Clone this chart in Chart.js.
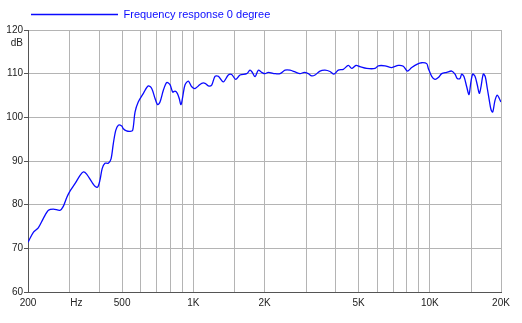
<!DOCTYPE html>
<html>
<head>
<meta charset="utf-8">
<script src="https://cdn.jsdelivr.net/npm/chart.js@4/dist/chart.umd.min.js"></script>
<style>
  html, body { margin: 0; padding: 0; background: #fff; }
  #wrap { width: 522px; height: 323px; }
</style>
</head>
<body>
<div id="wrap"><canvas id="c" width="522" height="323"></canvas></div>
<script>
const seriesLabel = 'Frequency response 0 degree';
const freqs = [200,211,221,232,244,256,273,282,292,301,316,332,343,354,372,384,394,403,412,423,437,449,459,470,482,498,506,522,540,554,567,585,615,645,667,689,707,723,747,772,797,818,837,856,872,887,902,922,953,985,1017,1050,1085,1121,1157,1196,1235,1276,1339,1406,1453,1511,1576,1682,1737,1776,1824,1883,1946,2010,2076,2215,2326,2442,2564,2692,2826,2947,3064,3167,3271,3434,3605,3784,3935,4103,4308,4524,4675,4876,5069,5410,5866,6058,6464,6901,7360,7727,8034,8386,8856,9244,9704,9857,10186,10518,10862,11226,11788,12376,12781,13070,13418,13643,13954,14322,14646,14892,15183,15528,15880,16193,16460,16836,17164,17504,17846,18146,18449,18865,19292,19670,20000];
const levels = [71.4,73.7,74.7,76.8,78.7,79.0,78.7,79.6,81.7,83.1,84.8,86.7,87.5,87.0,85.2,84.2,84.0,85.6,88.3,89.5,89.5,90.5,94.0,97.0,98.2,98.0,97.4,96.9,96.8,97.0,101.2,103.5,105.5,107.2,106.6,104.3,102.9,103.5,106.2,108.0,107.5,105.8,106.0,105.5,104.3,102.9,104.7,107.4,108.3,107.0,106.6,107.2,107.8,107.8,107.2,107.4,109.4,109.4,108.1,109.7,109.8,108.7,109.7,110.0,110.8,110.3,109.3,110.8,110.3,110.0,110.3,110.0,110.0,110.8,110.8,110.4,110.0,110.3,110.0,109.5,109.7,110.6,110.8,110.5,109.9,110.8,111.0,111.9,111.2,111.9,111.6,111.2,111.2,111.8,111.8,111.4,111.9,111.7,110.6,111.4,112.2,112.5,112.3,111.2,109.4,108.7,109.1,110.0,110.3,110.6,109.9,108.9,108.9,109.9,109.3,107.0,105.2,107.8,109.9,109.4,107.4,105.5,107.0,109.9,109.3,106.6,103.9,101.8,101.2,103.9,105.1,104.3,103.5];
const gridFreqs = [200,300,400,500,600,700,800,900,1000,1500,2000,3000,4000,5000,6000,7000,8000,9000,10000,15000,20000];
const xLabelValues = [200,320,500,1000,2000,5000,10000,20000];
const xLabelTexts = ['200','Hz','500','1K','2K','5K','10K','20K'];
const yTicks = [60,70,80,90,100,110,120];
const yUnit = 'dB';

const GRID = '#b4b4b4';
const AXIS = '#555555';
const BLUE = '#0a0aff';

const unitPlugin = {
  id: 'unitLabel',
  afterDraw(chart) {
    const y = chart.scales.y;
    const ctx = chart.ctx;
    ctx.save();
    ctx.font = '10px "Liberation Sans", Arial, sans-serif';
    ctx.fillStyle = '#222';
    ctx.textAlign = 'right';
    ctx.textBaseline = 'middle';
    ctx.fillText(yUnit, y.right - 5, y.getPixelForValue(yTicks[yTicks.length - 1]) + 13);
    ctx.restore();
  }
};

new Chart(document.getElementById('c'), {
  type: 'line',
  data: {
    datasets: [{
      label: seriesLabel,
      data: freqs.map((f, i) => ({ x: f, y: levels[i] })),
      borderColor: BLUE,
      backgroundColor: BLUE,
      borderWidth: 1.3,
      pointRadius: 0,
      tension: 0.3,
      fill: false
    }]
  },
  options: {
    responsive: false,
    animation: false,
    layout: { padding: { top: 6, right: 21, left: 0, bottom: 0 } },
    plugins: {
      tooltip: { enabled: false },
      legend: {
        display: true,
        position: 'top',
        align: 'start',
        fullSize: false,
        labels: {
          usePointStyle: true,
          pointStyle: 'line',
          pointStyleWidth: 87,
          padding: 3,
          color: BLUE,
          font: { family: '"Liberation Sans", Arial, sans-serif', size: 11 }
        }
      }
    },
    scales: {
      x: {
        type: 'logarithmic',
        min: 200,
        max: 20000,
        afterBuildTicks(scale) {
          const vals = Array.from(new Set(gridFreqs.concat(xLabelValues))).sort((a, b) => a - b);
          scale.ticks = vals.map(v => ({ value: v }));
        },
        afterFit(scale) { scale.height = 31; },
        ticks: {
          autoSkip: false,
          maxRotation: 0,
          minRotation: 0,
          padding: 5,
          color: '#222',
          font: { family: '"Liberation Sans", Arial, sans-serif', size: 10 },
          callback(value) {
            const i = xLabelValues.indexOf(value);
            return i >= 0 ? xLabelTexts[i] : '';
          }
        },
        grid: {
          drawTicks: false,
          color: ctx => (ctx.tick && gridFreqs.indexOf(ctx.tick.value) >= 0) ? GRID : 'rgba(0,0,0,0)',
          lineWidth: 1
        },
        border: { display: true, color: AXIS, width: 1 }
      },
      y: {
        min: 60,
        max: 120,
        afterBuildTicks(scale) { scale.ticks = yTicks.map(v => ({ value: v })); },
        afterFit(scale) { scale.width = 28; },
        ticks: {
          padding: 1,
          color: '#222',
          font: { family: '"Liberation Sans", Arial, sans-serif', size: 10 }
        },
        grid: {
          color: GRID,
          tickColor: AXIS,
          tickLength: 4,
          lineWidth: 1
        },
        border: { display: true, color: AXIS, width: 1 }
      }
    }
  },
  plugins: [unitPlugin]
});
</script>
</body>
</html>
